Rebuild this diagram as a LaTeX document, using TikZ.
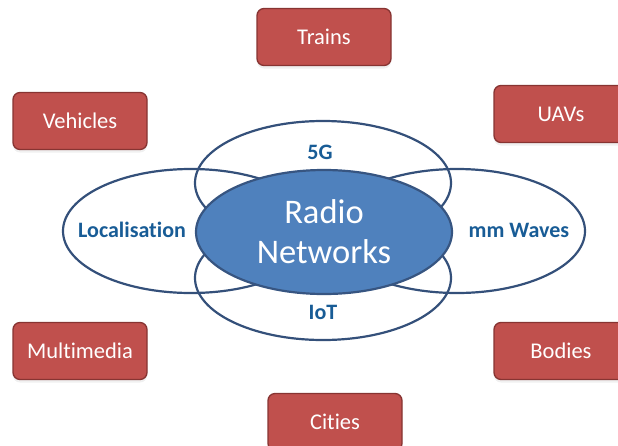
\documentclass[tikz,border=0pt]{standalone}
\usepackage{fontspec}
\setmainfont{Carlito}[Ligatures={NoCommon}]
\usetikzlibrary{shapes.geometric,shadows}

\definecolor{boxred}{RGB}{192,80,77}
\definecolor{boxedge}{RGB}{135,52,50}
\definecolor{netblue}{RGB}{79,129,189}
\definecolor{ringedge}{RGB}{52,80,122}
\definecolor{labblue}{RGB}{24,92,150}

\begin{document}
\begin{tikzpicture}[x=1pt,y=-1pt,
  redbox/.style={draw=boxedge,fill=boxred,line width=1.3pt,rounded corners=7pt,
    minimum width=134pt,minimum height=57pt,text=white,
    font=\fontsize{22.5}{27}\selectfont,
    drop shadow={shadow xshift=0pt,shadow yshift=-3pt,opacity=0.12}},
  ring/.style={ellipse,draw=ringedge,line width=2.2pt,inner sep=0pt,
    minimum width=256pt,minimum height=124pt},
  lab/.style={text=labblue,font=\bfseries\fontsize{22}{26}\selectfont}]

\useasboundingbox (0,0) rectangle (618,445);

\coordinate (trains) at (324,37);
\coordinate (vehicles) at (80,121);
\coordinate (uavs) at (561,114);
\coordinate (multimedia) at (80,351);
\coordinate (bodies) at (561,351);
\coordinate (cities) at (335,422);

\foreach \n/\t in {trains/Trains,vehicles/Vehicles,uavs/UAVs,
                   multimedia/Multimedia,bodies/Bodies,cities/Cities}
    \node[redbox] (\n-box) at (\n) {\t};

% the four rings round the hub
\node[ring] (top) at (323,183) {};
\node[ring] (bottom) at (323,278) {};
\node[ring] (left) at (191,231) {};
\node[ring] (right) at (457,231) {};

\node[ring,fill=netblue,draw=ringedge!90!netblue,text=white,align=center,
      font=\fontsize{34.5}{40}\selectfont] (radio) at (324,232) {Radio\\Networks};

\node[lab] (fiveg) at (320,152) {5G};
\node[lab] (iot) at (323,312) {IoT};
\node[lab] (local) at (132,230) {Localisation};
\node[lab] (mmw) at (519,230) {mm Waves};

\end{tikzpicture}
\end{document}
